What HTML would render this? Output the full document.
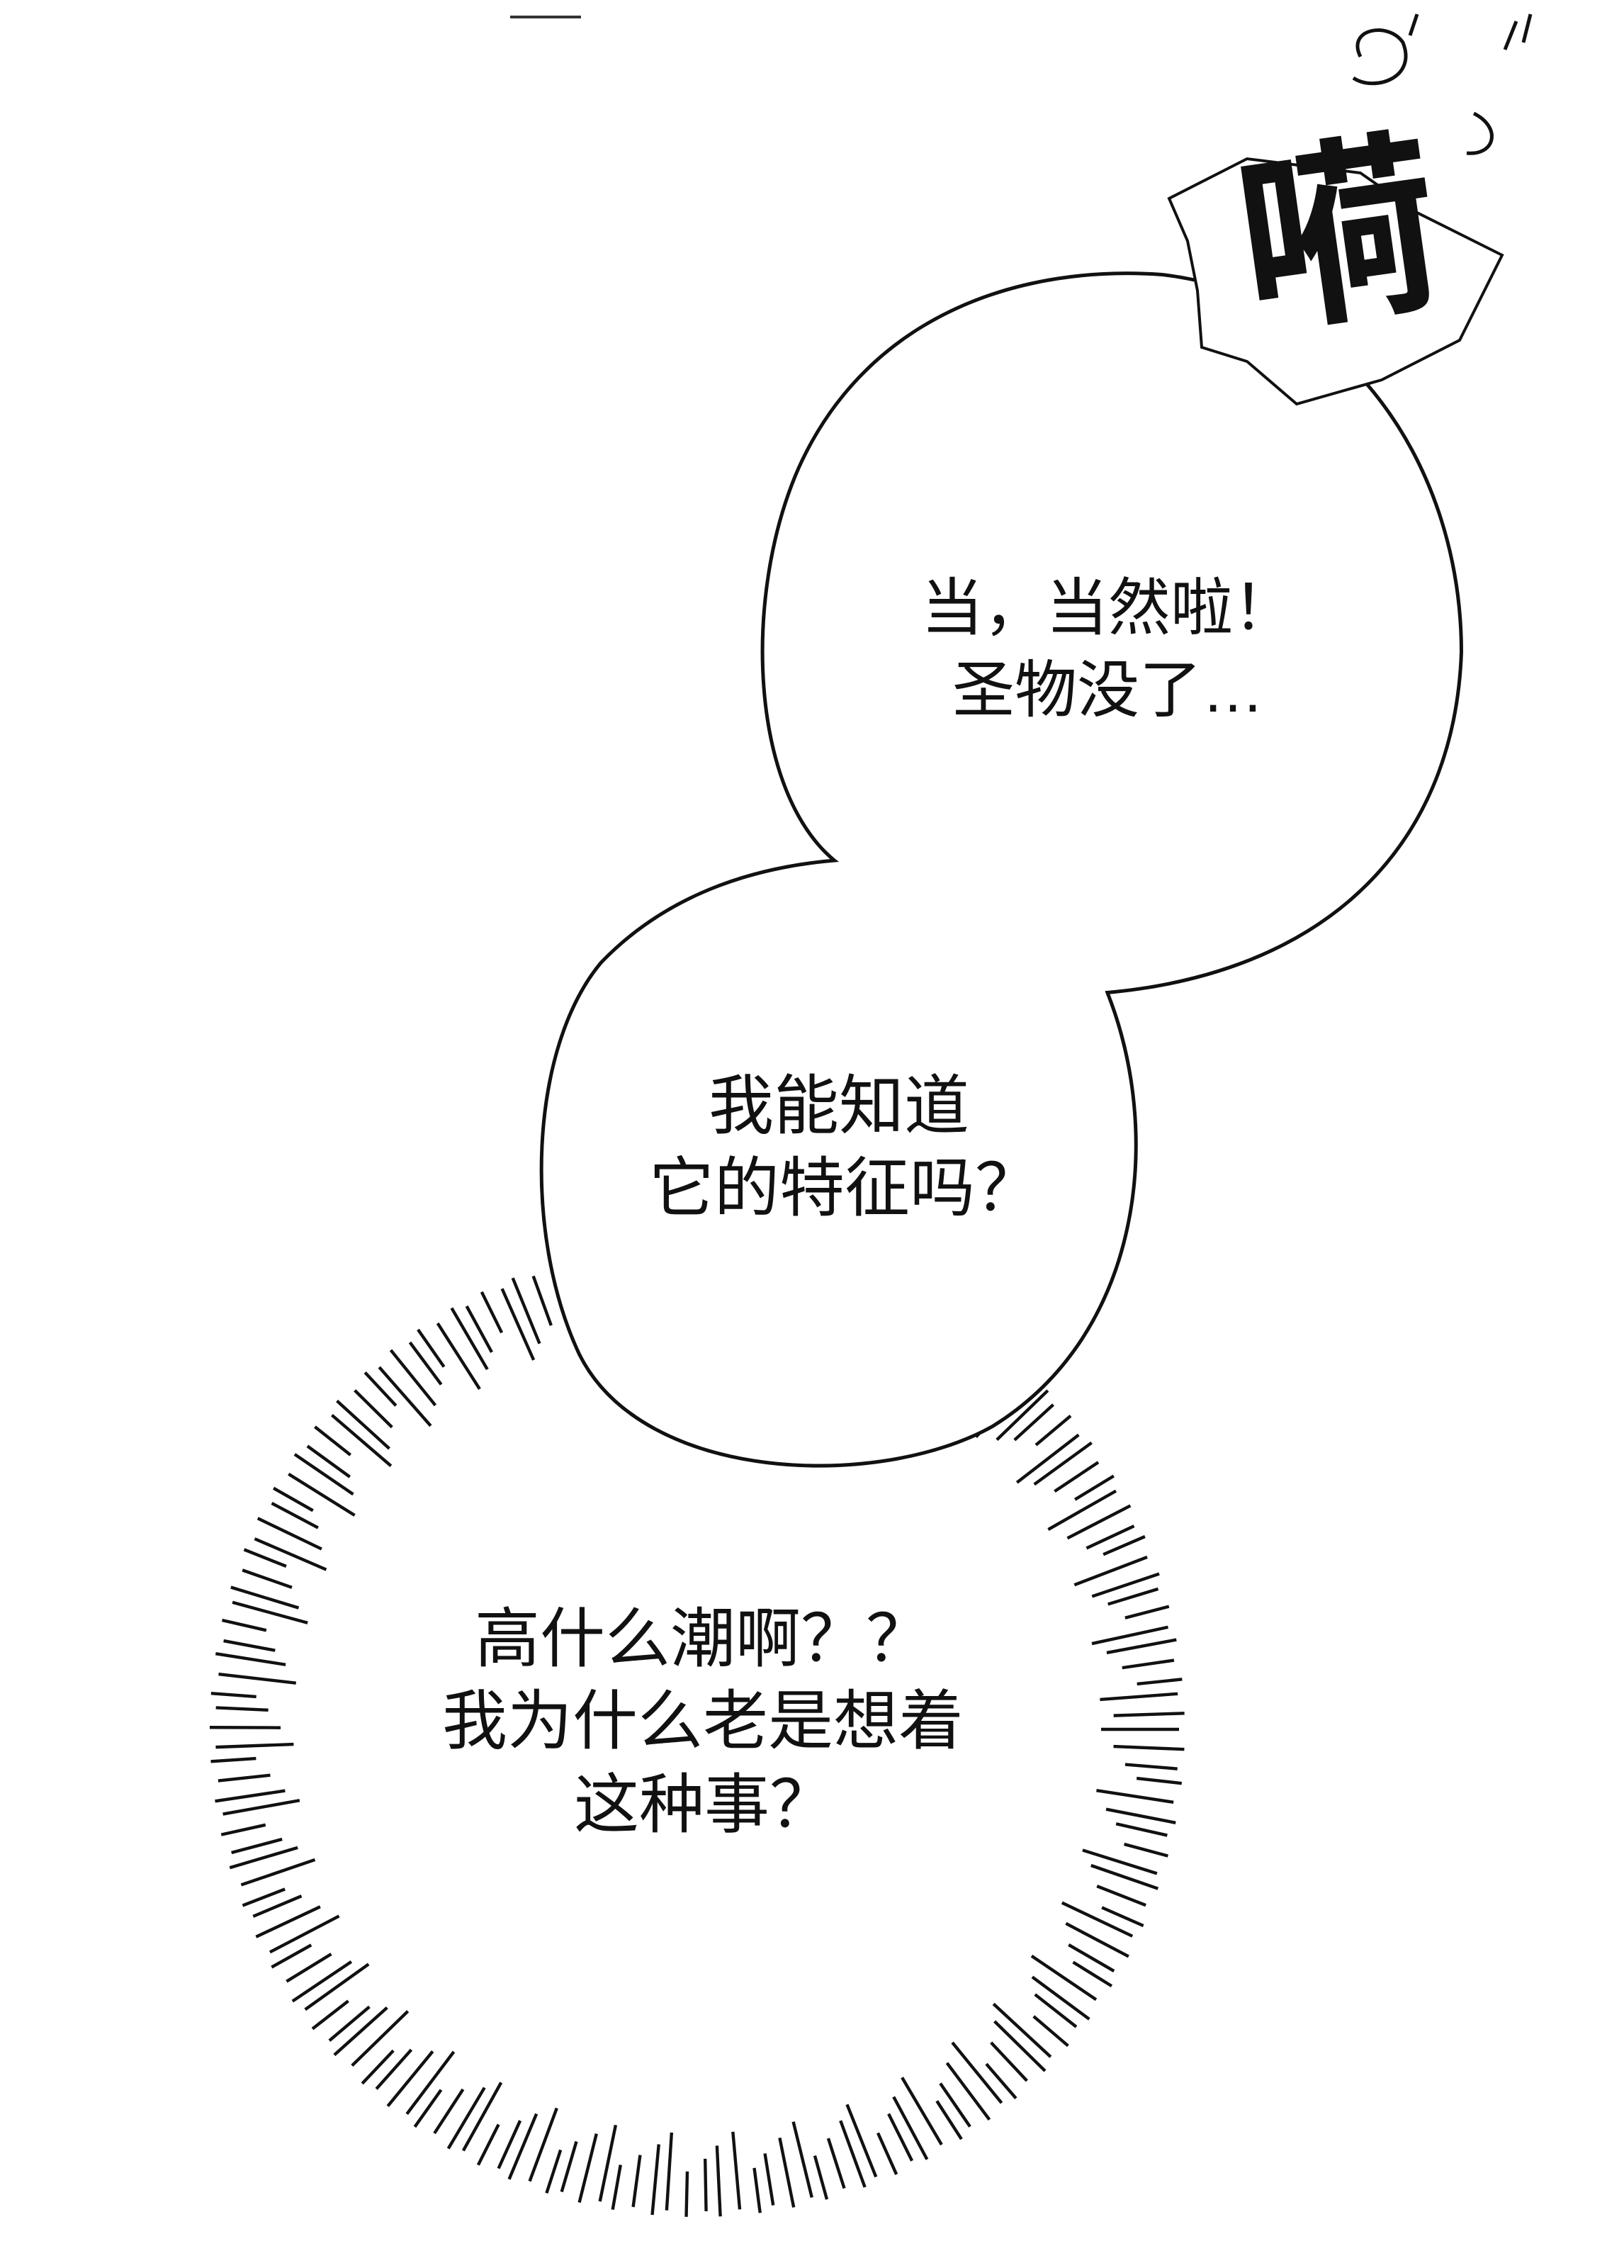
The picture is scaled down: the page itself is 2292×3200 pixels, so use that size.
<!DOCTYPE html>
<html><head><meta charset="utf-8">
<style>
html,body{margin:0;padding:0;background:#fff;}
svg{display:block;}
text{font-family:"Liberation Sans","Noto Sans CJK SC",sans-serif;fill:#111;}
</style></head>
<body>
<svg id="s" width="2292" height="3200" viewBox="0 0 1146 1600" xmlns="http://www.w3.org/2000/svg">
<defs>
<path id="b2" d="M592,608 C700,612 770,660 780,700 C820,800 805,940 700,1005 C620,1050 455,1045 410,955 C370,870 375,740 425,680 C475,628 540,612 592,608 Z"/>
<path id="b1" d="M592,608 C530,560 525,420 565,330 C615,220 725,188 820,195 C950,210 1030,330 1030,460 C1025,600 930,690 768,700 C700,700 640,650 592,608 Z"/>
</defs>
<rect width="1146" height="1600" fill="#fff"/>
<line x1="360" y1="12" x2="410" y2="12" stroke="#333" stroke-width="2"/>
<g id="rays" stroke="#111" stroke-width="2.2"></g>
<g fill="#fff" stroke="#111" stroke-width="5">
<use href="#b2"/><use href="#b1"/>
</g>
<g fill="#fff" stroke="none">
<use href="#b1"/><use href="#b2"/>
</g>
<polygon points="825,140 880,112 960,122 1000,150 1060,180 1030,240 975,268 915,285 880,255 848,245 845,205 838,170" fill="#fff" stroke="#111" stroke-width="2"/>
<text x="945" y="215" font-size="140" font-weight="bold" text-anchor="middle" transform="rotate(-8 945 170)">嗬</text>
<g fill="none" stroke="#111" stroke-width="2.5">
<path d="M960,40 C950,20 980,15 990,30 C1000,55 970,65 955,55"/>
<path d="M1040,80 C1060,90 1055,110 1035,108"/>
<path d="M1000,10 L995,25 M1070,15 L1062,35 M1080,10 L1075,30"/>
</g>
<g font-size="44">
<text x="650" y="444">当，当然啦！</text>
<text x="672" y="502">圣物没了…</text>
</g>
<g font-size="46">
<text x="500" y="796">我能知道</text>
<text x="458" y="854">它的特征吗？</text>
</g>
<g font-size="46">
<text x="335" y="1172">高什么潮啊？？</text>
<text x="312" y="1230">我为什么老是想着</text>
<text x="405" y="1289">这种事？</text>
</g>
</svg>
<script>
(function(){
var g=document.getElementById('rays');var cx=492,cy=1220;var ns='http://www.w3.org/2000/svg';
for(var i=0;i<170;i++){var a=i/170*Math.PI*2+(i%3)*0.004;
var r1=285+(i%4)*9,r2=340+(i%2)*4;
var l=document.createElementNS(ns,'line');
l.setAttribute('x1',cx+Math.cos(a)*r1);l.setAttribute('y1',cy+Math.sin(a)*r1);
l.setAttribute('x2',cx+Math.cos(a)*r2);l.setAttribute('y2',cy+Math.sin(a)*r2);
g.appendChild(l);}
})();
</script>
</body></html>
